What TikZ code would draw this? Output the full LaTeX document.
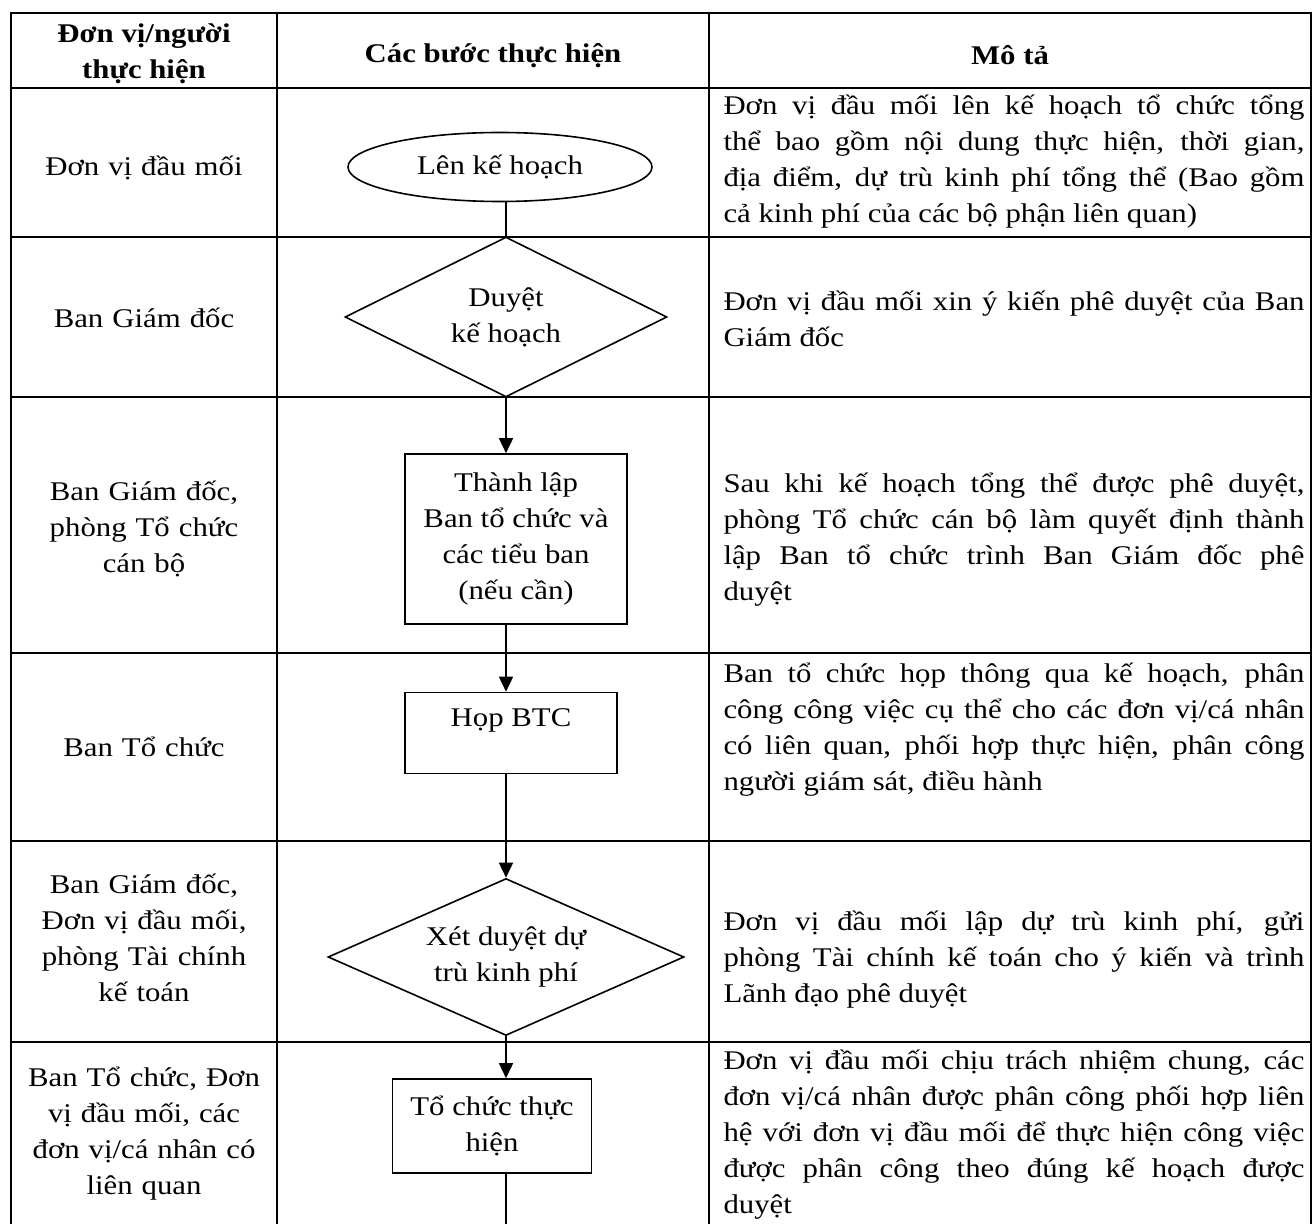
\documentclass[tikz,border=0pt]{standalone}
\usepackage{fontspec}
\setmainfont[FakeStretch=1.14]{Liberation Serif}
\usetikzlibrary{positioning, arrows.meta, shapes.geometric}
\hyphenpenalty=10000
\exhyphenpenalty=10000
\tolerance=9000

\begin{document}
\begin{tikzpicture}[
	x=0.5pt, y=-0.5pt,
	font=\fontsize{13.5pt}{18pt}\selectfont,
	% Styles
	grid_line/.style={line width=1pt},
	head/.style={font=\fontsize{13.5pt}{18pt}\selectfont\bfseries, align=center, inner sep=0pt},
	who/.style={align=center, text width=133pt, inner sep=0pt},
	desc/.style={align=justify, text width=290.5pt, inner sep=0pt},
	terminal/.style={ellipse, draw, line width=0.8pt, minimum width=152pt, minimum height=34.5pt, inner sep=0pt, align=center},
	decision/.style={diamond, aspect=2, draw, line width=0.8pt, inner sep=0pt, align=center},
	step_box/.style={rectangle, draw, line width=0.8pt, inner sep=0pt, align=center},
	flow/.style={-{Triangle[length=7.5pt, width=7pt]}, line width=0.8pt},
	link/.style={line width=0.8pt}
	]
	
	\useasboundingbox (0,0) rectangle (1312,1224);
	\clip (0,0) rectangle (1312,1224);
	
	% --- Table grid ---
	\foreach \y in {13,88,237,397,653,841,1042}
		\draw[grid_line] (11,\y) -- (1311,\y);
	\foreach \x in {11,277,709,1311}
		\draw[grid_line] (\x,12) -- (\x,1240);
	
	% --- Header ---
	\node[head] (h_who) at (144,54) {Đơn vị/người\\thực hiện};
	\node[head] (h_step) at (493,56) {Các bước thực hiện};
	\node[head] (h_desc) at (1010,55) {Mô tả};
	
	% --- Column 1: who ---
	\node[who] (w1) at (144,168) {Đơn vị đầu mối};
	\node[who] (w2) at (144,318) {Ban Giám đốc};
	\node[who] (w3) at (144,529) {Ban Giám đốc,\\phòng Tổ chức\\cán bộ};
	\node[who] (w4) at (144,747) {Ban Tổ chức};
	\node[who] (w5) at (144,938) {Ban Giám đốc,\\Đơn vị đầu mối,\\phòng Tài chính\\kế toán};
	\node[who] (w6) at (144,1134) {Ban Tổ chức, Đơn\\vị đầu mối, các\\đơn vị/cá nhân có\\liên quan};
	
	% --- Column 2: flow chart ---
	\node[terminal] (plan) at (500,167) {Lên kế hoạch};
	\node[decision, minimum width=161pt, minimum height=80pt] (approve) at (506,317) {Duyệt\\kế hoạch};
	\node[step_box, minimum width=111pt, minimum height=85pt] (setup) at (516,539) {Thành lập\\Ban tổ chức và\\các tiểu ban\\(nếu cần)};
	\node[step_box, minimum width=106pt, minimum height=40.5pt, text height=9.5pt, text depth=16.5pt] (meeting) at (511,733) {Họp BTC};
	\node[decision, minimum width=178pt, minimum height=78.5pt] (budget) at (506,957) {Xét duyệt dự\\trù kinh phí};
	\node[step_box, minimum width=99.5pt, minimum height=47pt] (run) at (492,1126) {Tổ chức thực\\hiện};
	\coordinate (tail) at (506,1240);
	
	% Connectors
	\draw[link] (plan.south -| approve.north) -- (approve.north);
	\draw[flow] (approve.south) -- (approve.south |- setup.north);
	\draw[flow] (setup.south -| approve.south) -- (approve.south |- meeting.north);
	\draw[flow] (meeting.south -| budget.north) -- (budget.north);
	\draw[flow] (budget.south) -- (budget.south |- run.north);
	\draw[link] (run.south -| tail) -- (tail);
	
	% --- Column 3: description ---
	\node[desc] (d1) at (1014,162) {Đơn vị đầu mối lên kế hoạch tổ chức tổng\linebreak thể bao gồm nội dung thực hiện, thời gian,\linebreak địa điểm, dự trù kinh phí tổng thể (Bao gồm\linebreak cả kinh phí của các bộ phận liên quan)};
	\node[desc] (d2) at (1014,319) {Đơn vị đầu mối xin ý kiến phê duyệt của Ban\linebreak Giám đốc};
	\node[desc] (d3) at (1014,540) {Sau khi kế hoạch tổng thể được phê duyệt,\linebreak phòng Tổ chức cán bộ làm quyết định thành\linebreak lập Ban tổ chức trình Ban Giám đốc phê\linebreak duyệt};
	\node[desc] (d4) at (1014,730) {Ban tổ chức họp thông qua kế hoạch, phân\linebreak công công việc cụ thể cho các đơn vị/cá nhân\linebreak có liên quan, phối hợp thực hiện, phân công\linebreak người giám sát, điều hành};
	\node[desc] (d5) at (1014,960) {Đơn vị đầu mối lập dự trù kinh phí, gửi\linebreak phòng Tài chính kế toán cho ý kiến và trình\linebreak Lãnh đạo phê duyệt};
	\node[desc] (d6) at (1014,1135) {Đơn vị đầu mối chịu trách nhiệm chung, các\linebreak đơn vị/cá nhân được phân công phối hợp liên\linebreak hệ với đơn vị đầu mối để thực hiện công việc\linebreak được phân công theo đúng kế hoạch được\linebreak duyệt};
	
\end{tikzpicture}
\end{document}
